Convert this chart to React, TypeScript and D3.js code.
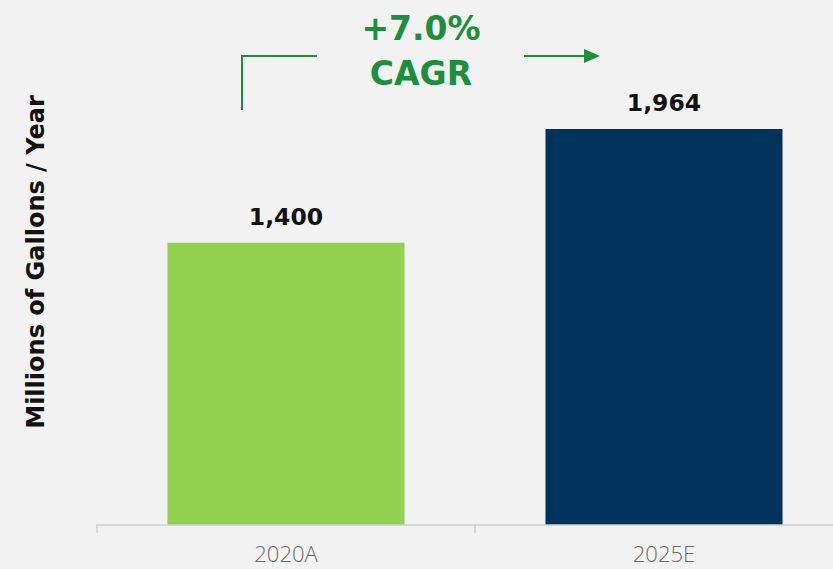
import React from "react";
import * as d3 from "d3";

const categories = ["2020A", "2025E"];
const values = [1400, 1964];
const valueLabels = ["1,400", "1,964"];
const barColors = ["#92d050", "#00335c"];
const cagrLines = ["+7.0%", "CAGR"];
const yTitle = "Millions of Gallons / Year";

const W = 833;
const H = 569;

export default function App() {
  const x = d3.scaleBand<string>().domain(categories).range([97, 853]).paddingInner(0.373).paddingOuter(0.1865);
  const y = d3.scaleLinear().domain([0, 1964]).range([525, 129]);
  const green = "#1b8f3c";
  const fontBold = "'DejaVu Sans', sans-serif";
  const ticks = [97, 475];
  return (
    <svg width={W} height={H} style={{ position: "absolute", left: 0, top: 0, fontFamily: fontBold }}>
      <rect x={0} y={0} width={W} height={H} fill="#f2f2f2" />
      {categories.map((c, i) => (
        <g key={c}>
          <rect x={x(c)} y={y(values[i])} width={x.bandwidth()} height={y(0) - y(values[i])} fill={barColors[i]} />
          <text x={(x(c) as number) + x.bandwidth() / 2} y={y(values[i]) - 18} textAnchor="middle" fontWeight="bold" fontSize={23.5} fill="#111">
            {valueLabels[i]}
          </text>
          <text x={(x(c) as number) + x.bandwidth() / 2} y={562} textAnchor="middle" fontSize={22} fontWeight={300} fill="#6a6a6a" fontFamily="'Open Sans', sans-serif">
            {c}
          </text>
        </g>
      ))}
      <line x1={96} x2={W} y1={525} y2={525} stroke="#d0d0d0" strokeWidth={1.5} />
      {ticks.map((t) => (
        <line key={t} x1={t} x2={t} y1={525} y2={533} stroke="#d0d0d0" strokeWidth={1.5} />
      ))}
      <text transform="translate(44,262) rotate(-90)" textAnchor="middle" fontWeight="bold" fontSize={24} fill="#111">
        {yTitle}
      </text>
      <path d="M242,110 V56 H317" fill="none" stroke={green} strokeWidth={2} />
      <path d="M524,56 H586" fill="none" stroke={green} strokeWidth={2} />
      <path d="M584,49 L600,56 L584,63 Z" fill={green} />
      {cagrLines.map((t, i) => (
        <text key={t} x={421} y={40 + i * 45} textAnchor="middle" fontWeight="bold" fontSize={33} fill={green}>
          {t}
        </text>
      ))}
    </svg>
  );
}
